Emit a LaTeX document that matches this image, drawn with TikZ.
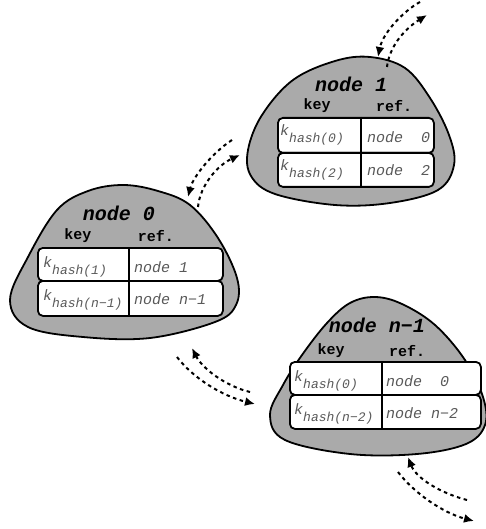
\documentclass[tikz,border=0pt]{standalone}
\usepackage{fontspec}
\setmonofont{Liberation Mono}
\usetikzlibrary{arrows.meta}
\definecolor{blobgray}{RGB}{170,170,170}
\newcommand{\khash}[1]{k\raisebox{-7pt}{\fontsize{13}{13}\selectfont hash(#1)}}
\tikzset{
  blob/.style={draw=black, line width=1.8pt, fill=blobgray},
  rowbox/.style={draw=black, line width=1.8pt, fill=white, rounded corners=5pt, anchor=north west, inner sep=0pt},
  divider/.style={draw=black, line width=1.3pt},
  title/.style={font=\ttfamily\bfseries\itshape\fontsize{20}{20}\selectfont, inner sep=0pt},
  head/.style={font=\ttfamily\bfseries\fontsize{15}{15}\selectfont, inner sep=0pt},
  cell/.style={font=\ttfamily\itshape\fontsize{15}{15}\selectfont, inner sep=0pt, anchor=base west, text=black!65},
  link/.style={line width=2pt, dash pattern=on 3.5pt off 3.5pt, -{Latex[length=10pt,width=9pt]}},
}
\begin{document}
\begin{tikzpicture}[x=1pt,y=-1pt]
\useasboundingbox (0,0) rectangle (486,529);

% ---------- node 1 ----------
\draw[blob] plot[smooth cycle, tension=0.6] coordinates {(248,150) (262,115) (293,80) (335,61) (370,57) (405,68) (430,98) (449,135) (454,165) (438,190) (390,203) (335,205) (275,194) (251,176)};
\node[title] (n1title) at (351,84) {node 1};
\node[head] (n1key) at (317,106) {key};
\node[head] (n1ref) at (394,106) {ref.};
\node[rowbox, minimum width=156pt, minimum height=35pt] (n1r1) at (277,117) {};
\node[rowbox, minimum width=156pt, minimum height=34pt] (n1r2) at (277,152) {};
\draw[divider] (361,117) -- (361,186);
\node[cell] (n1k1) at (280,136) {\khash{0}};
\node[cell] (n1v1) at (367,143) {node~~0};
\node[cell] (n1k2) at (280,171) {\khash{2}};
\node[cell] (n1v2) at (367,176) {node~~2};

% ---------- node 0 ----------
\draw[blob] plot[smooth cycle, tension=0.6] coordinates {(10,300) (28,257) (57,210) (88,191) (123,185) (158,191) (190,205) (218,238) (237,278) (236,305) (215,322) (150,338) (83,337) (28,327)};
\node[title] (n0title) at (119,213) {node 0};
\node[head] (n0key) at (78,236) {key};
\node[head] (n0ref) at (156,236) {ref.};
\node[rowbox, minimum width=185pt, minimum height=33pt] (n0r1) at (37,247) {};
\node[rowbox, minimum width=185pt, minimum height=35pt] (n0r2) at (37,280) {};
\draw[divider] (129,247) -- (129,315);
\node[cell] (n0k1) at (43,267) {\khash{1}};
\node[cell] (n0v1) at (134,272) {node 1};
\node[cell] (n0k2) at (43,300) {\khash{n−1}};
\node[cell] (n0v2) at (134,304) {node n−1};

% ---------- node n-1 ----------
\draw[blob] plot[smooth cycle, tension=0.6] coordinates {(270,415) (283,385) (302,355) (327,323) (350,303) (375,297) (402,304) (435,325) (465,360) (483,397) (485,425) (466,444) (417,454) (350,454) (285,440)};
\node[title] (nmtitle) at (377,325) {node n−1};
\node[head] (nmkey) at (331,351) {key};
\node[head] (nmref) at (407,351) {ref.};
\node[rowbox, minimum width=191pt, minimum height=33pt] (nmr1) at (289,361) {};
\node[rowbox, minimum width=191pt, minimum height=34pt] (nmr2) at (289,394) {};
\draw[divider] (382,361) -- (382,428);
\node[cell] (nmk1) at (294,381) {\khash{0}};
\node[cell] (nmv1) at (386,386) {node~~0};
\node[cell] (nmk2) at (294,414) {\khash{n−2}};
\node[cell] (nmv2) at (386,418) {node n−2};

% ---------- connectors ----------
\coordinate (a1s) at (420,2);   \coordinate (a1e) at (378,57);
\coordinate (b1s) at (387,67);  \coordinate (b1e) at (427,15);
\draw[link] (a1s) .. controls (405,10) and (383,32) .. (a1e);
\draw[link] (b1s) .. controls (389,48) and (403,30) .. (b1e);

\coordinate (a2s) at (232,140); \coordinate (a2e) at (188,197);
\coordinate (b2s) at (198,207); \coordinate (b2e) at (240,155);
\draw[link] (a2s) .. controls (212,153) and (193,177) .. (a2e);
\draw[link] (b2s) .. controls (200,185) and (218,165) .. (b2e);

\coordinate (a3s) at (177,357); \coordinate (a3e) at (255,404);
\coordinate (b3s) at (250,392); \coordinate (b3e) at (192,348);
\draw[link] (a3s) .. controls (193,378) and (222,396) .. (a3e);
\draw[link] (b3s) .. controls (225,386) and (202,368) .. (b3e);

\coordinate (a4s) at (398,472); \coordinate (a4e) at (474,521);
\coordinate (b4s) at (467,500); \coordinate (b4e) at (408,457);
\draw[link] (a4s) .. controls (414,493) and (443,513) .. (a4e);
\draw[link] (b4s) .. controls (440,493) and (416,478) .. (b4e);
\end{tikzpicture}
\end{document}
